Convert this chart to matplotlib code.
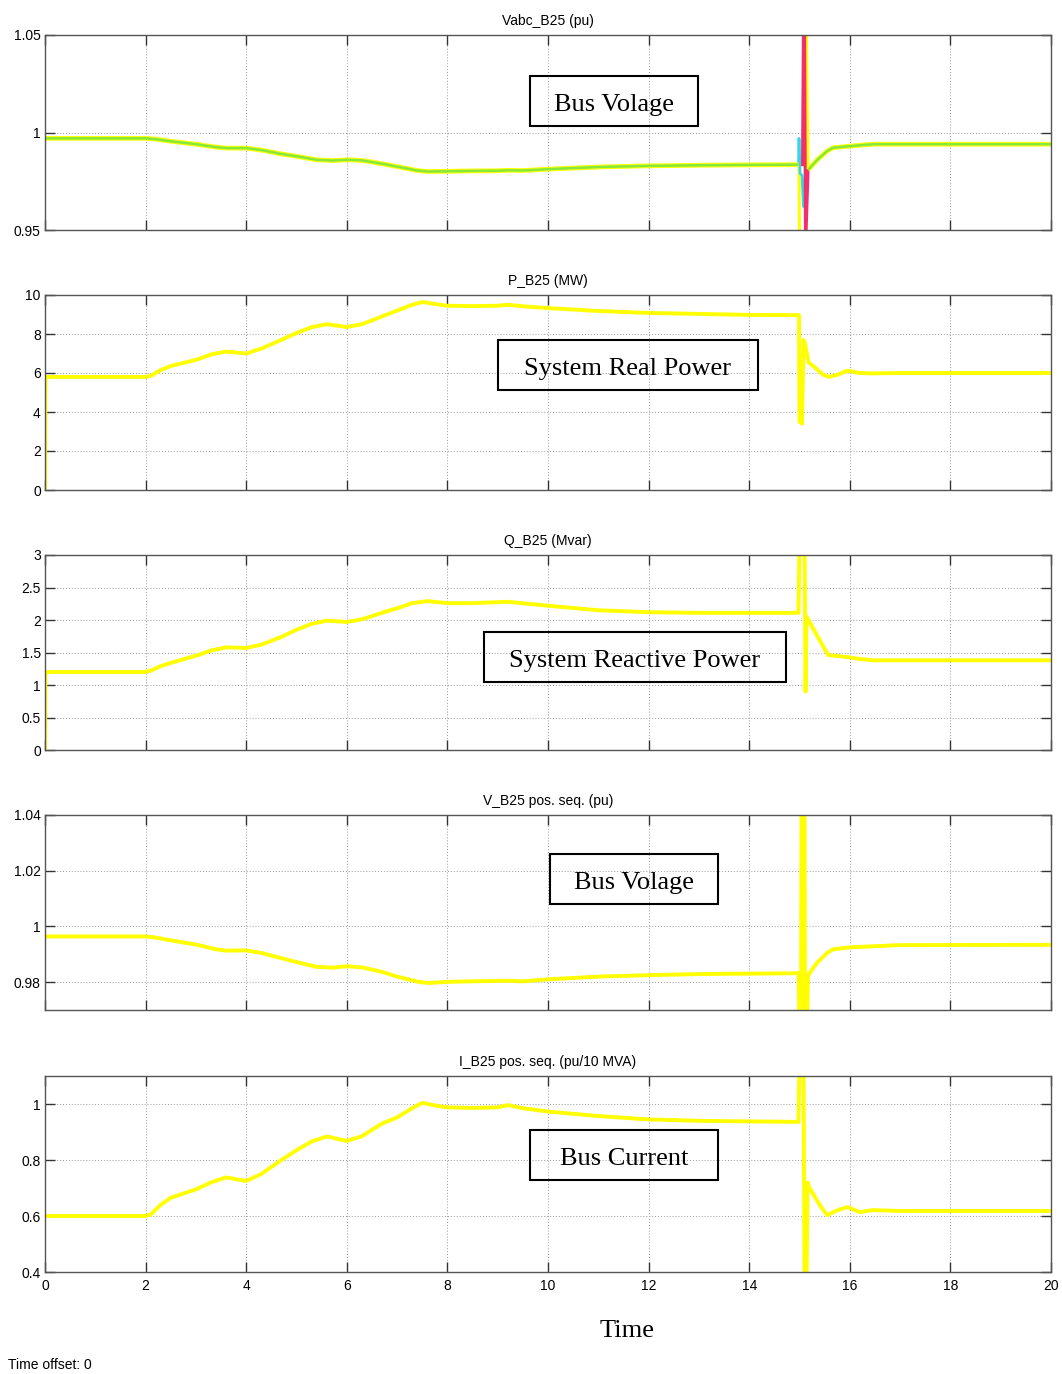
import matplotlib.pyplot as plt
from matplotlib.patches import Rectangle
from matplotlib.ticker import FormatStrFormatter

plt.rcParams['font.family'] = ['Liberation Sans', 'DejaVu Sans']

# --- bus voltage, three phases (pu) ---
vabc_t_pre = [0, 2.0, 2.2, 2.5, 3.0, 3.4, 3.6, 4.0, 4.3, 4.7, 5.0, 5.4, 5.7, 6.0, 6.3,
              6.7, 7.0, 7.4, 7.6, 8.0, 8.5, 9.0, 9.2, 9.5, 10, 11, 12, 13, 14, 14.98]
vabc_pre = [0.997, 0.997, 0.9966, 0.9955, 0.994, 0.9925, 0.992, 0.992, 0.991, 0.989,
            0.9878, 0.986, 0.9856, 0.986, 0.9857, 0.984, 0.9825, 0.9805, 0.980, 0.9801,
            0.9803, 0.9804, 0.9806, 0.9805, 0.9812, 0.9823, 0.9829, 0.9832, 0.9834,
            0.9835]
vabc_t_post = [15.17, 15.35, 15.55, 15.67, 16.0, 16.46, 17, 20]
vabc_post = [0.9808, 0.9859, 0.9905, 0.9922, 0.993, 0.994, 0.994, 0.994]
# fault transient on each phase
va_t_fault = [14.98, 14.99, 15.0, 15.12, 15.13, 15.17]
va_fault = [0.9835, 0.9835, 0.94, 0.94, 1.06, 0.9808]
vb_t_fault = [15.06, 15.08, 15.1, 15.12, 15.17]
vb_fault = [0.9835, 1.06, 1.06, 0.94, 0.9808]
vc_t_fault = [14.98, 14.99, 15.01, 15.05, 15.08, 15.12, 15.17]
vc_fault = [0.9835, 0.997, 0.979, 0.978, 0.962, 0.979, 0.9808]

# --- real power (MW) ---
p_t = [0, 0.01, 2.0, 2.1, 2.3, 2.5, 3.0, 3.3, 3.6, 4.0, 4.3, 4.7, 5.0, 5.3, 5.6, 6.0,
       6.3, 6.7, 7.0, 7.3, 7.5, 7.8, 8.0, 8.5, 9.0, 9.2, 9.5, 10, 11, 12, 13, 14,
       14.99, 15.0, 15.05, 15.08, 15.1, 15.18, 15.3, 15.45, 15.57, 15.75, 15.95,
       16.2, 16.46, 17, 20]
p_mw = [0, 5.8, 5.8, 5.85, 6.15, 6.36, 6.67, 6.95, 7.1, 7.0, 7.25, 7.7, 8.05, 8.35,
        8.5, 8.36, 8.5, 8.9, 9.2, 9.5, 9.64, 9.52, 9.45, 9.43, 9.45, 9.5, 9.42, 9.33,
        9.18, 9.08, 9.03, 8.98, 8.97, 3.5, 3.4, 7.7, 7.6, 6.55, 6.3, 5.95, 5.8, 5.9,
        6.12, 6.0, 5.98, 6.0, 6.0]

# --- reactive power (Mvar) ---
q_t = [0, 0.01, 2.0, 2.1, 2.3, 2.5, 3.0, 3.3, 3.6, 4.0, 4.3, 4.7, 5.0, 5.3, 5.6, 6.0,
       6.3, 6.7, 7.0, 7.3, 7.6, 8.0, 8.5, 9.2, 9.6, 10, 11, 12, 13, 14.98, 15.0, 15.1,
       15.12, 15.14, 15.4, 15.57, 15.95, 16.2, 16.46, 17, 20]
q_mvar = [0, 1.2, 1.2, 1.22, 1.29, 1.34, 1.45, 1.53, 1.58, 1.57, 1.62, 1.74, 1.85,
          1.94, 1.99, 1.97, 2.01, 2.11, 2.18, 2.26, 2.29, 2.26, 2.26, 2.28, 2.25,
          2.22, 2.15, 2.12, 2.11, 2.11, 3.2, 3.2, 0.9, 2.05, 1.69, 1.46, 1.43, 1.4,
          1.38, 1.38, 1.38]

# --- positive-sequence voltage (pu) ---
v1_t = [0, 2.0, 2.2, 2.5, 3.0, 3.4, 3.6, 4.0, 4.3, 4.7, 5.0, 5.4, 5.7, 6.0, 6.3, 6.7,
        7.0, 7.4, 7.6, 8.0, 8.5, 9.2, 9.5, 10, 11, 12, 13, 14.98, 15.0, 15.03, 15.04,
        15.1, 15.11, 15.15, 15.17, 15.35, 15.55, 15.67, 16.0, 17, 20]
v1_pu = [0.9964, 0.9964, 0.996, 0.995, 0.9935, 0.9918, 0.9913, 0.9914, 0.9905,
         0.9886, 0.9872, 0.9855, 0.9852, 0.9857, 0.9853, 0.9837, 0.982, 0.9802,
         0.9797, 0.9801, 0.9803, 0.9805, 0.9803, 0.981, 0.982, 0.9825, 0.9829,
         0.9832, 0.965, 0.965, 1.045, 1.045, 0.965, 0.965, 0.9825, 0.987, 0.9905,
         0.9918, 0.9925, 0.9933, 0.9934]

# --- positive-sequence current (pu/10 MVA) ---
i1_t = [0, 2.0, 2.1, 2.3, 2.5, 3.0, 3.3, 3.6, 4.0, 4.3, 4.7, 5.0, 5.3, 5.6, 6.0, 6.3,
        6.7, 7.0, 7.3, 7.5, 7.8, 8.0, 8.5, 9.0, 9.2, 9.5, 10, 11, 12, 13, 14.98, 15.0,
        15.08, 15.1, 15.14, 15.16, 15.2, 15.4, 15.55, 15.75, 15.95, 16.2, 16.46, 17,
        20]
i1_pu = [0.6, 0.6, 0.605, 0.64, 0.665, 0.695, 0.72, 0.738, 0.725, 0.75, 0.8, 0.835,
         0.866, 0.884, 0.868, 0.885, 0.93, 0.952, 0.985, 1.004, 0.993, 0.988, 0.986,
         0.988, 0.996, 0.985, 0.973, 0.957, 0.945, 0.94, 0.936, 1.15, 1.15, 0.35,
         0.35, 0.72, 0.7, 0.64, 0.603, 0.62, 0.632, 0.614, 0.621, 0.618, 0.618]

titles = ['Vabc_B25 (pu)', 'P_B25 (MW)', 'Q_B25 (Mvar)', 'V_B25 pos. seq. (pu)',
          'I_B25 pos. seq. (pu/10 MVA)']
ylims = [(0.95, 1.05), (0, 10), (0, 3), (0.97, 1.04), (0.4, 1.1)]
yticks = [[0.95, 1, 1.05], [0, 2, 4, 6, 8, 10], [0, 0.5, 1, 1.5, 2, 2.5, 3],
          [0.98, 1, 1.02, 1.04], [0.4, 0.6, 0.8, 1]]
box_labels = ['Bus Volage', 'System Real Power', 'System Reactive Power',
              'Bus Volage', 'Bus Current']

W, H = 1062, 1374
fig = plt.figure(figsize=(W / 100, H / 100), dpi=100)

tops = [35, 295, 555, 815, 1076]
heights = [195, 195, 195, 195, 196]
axes = []
for top, h in zip(tops, heights):
    ax = fig.add_axes([45 / W, 1 - (top + h) / H, 1006 / W, h / H])
    axes.append(ax)

yellow = '#ffff00'
lw = 2.8
line_kw = dict(color=yellow, lw=lw, solid_joinstyle='round')

for i, ax in enumerate(axes):
    ax.set_xlim(0, 20)
    ax.set_ylim(*ylims[i])
    ax.set_xticks(range(0, 21, 2))
    ax.set_yticks(yticks[i])
    ax.yaxis.set_major_formatter(FormatStrFormatter('%g'))
    ax.grid(True, color='#9a9a9a', linestyle=(0, (1, 2)), linewidth=0.7)
    ax.tick_params(direction='in', length=7, width=1, color='#333333',
                   top=True, right=True, labelsize=10, pad=3)
    ax.tick_params(axis='x', pad=5)
    for s in ax.spines.values():
        s.set_color('#555555')
        s.set_linewidth(1.0)
    ax.set_title(titles[i], fontsize=10, pad=7)
    if i < 4:
        ax.tick_params(labelbottom=False)

# three-phase voltage: overlapping phases plus fault transients
ax = axes[0]
ax.plot(va_t_fault, va_fault, color=yellow, lw=2.2)
ax.plot(vc_t_fault, vc_fault, color='#33d6ee', lw=2.0)
ax.plot(vb_t_fault, vb_fault, color='#f0306a', lw=2.2)
for t, v in [(vabc_t_pre, vabc_pre), (vabc_t_post, vabc_post)]:
    ax.plot(t, v, color=yellow, lw=3.4, solid_capstyle='butt', solid_joinstyle='round')
    ax.plot(t, v, color='#86e83a', lw=1.8, solid_capstyle='butt', solid_joinstyle='round')

axes[1].plot(p_t, p_mw, **line_kw)
axes[2].plot(q_t, q_mvar, **line_kw)
axes[3].plot(v1_t, v1_pu, **line_kw)
axes[4].plot(i1_t, i1_pu, **line_kw)

# annotation boxes (pixel rectangles)
boxes = [(530, 76, 168, 50), (498, 340, 260, 50), (484, 632, 302, 50),
         (550, 854, 168, 50), (530, 1130, 188, 50)]
for (x0, y0, bw, bh), label in zip(boxes, box_labels):
    fig.add_artist(Rectangle((x0 / W, 1 - (y0 + bh) / H), bw / W, bh / H,
                             transform=fig.transFigure, fill=False,
                             edgecolor='black', linewidth=1.5))
    fig.text((x0 + bw / 2) / W, 1 - (y0 + bh / 2 + 4) / H, label,
             family='Liberation Serif', fontsize=19, ha='center', va='center')

fig.text(627 / W, 1 - 1331 / H, 'Time', family='Liberation Serif', fontsize=19,
         ha='center', va='center')
fig.text(8 / W, 1 - 1365 / H, 'Time offset: 0', fontsize=10, ha='left', va='center')

fig.savefig('out.png', dpi=100)
